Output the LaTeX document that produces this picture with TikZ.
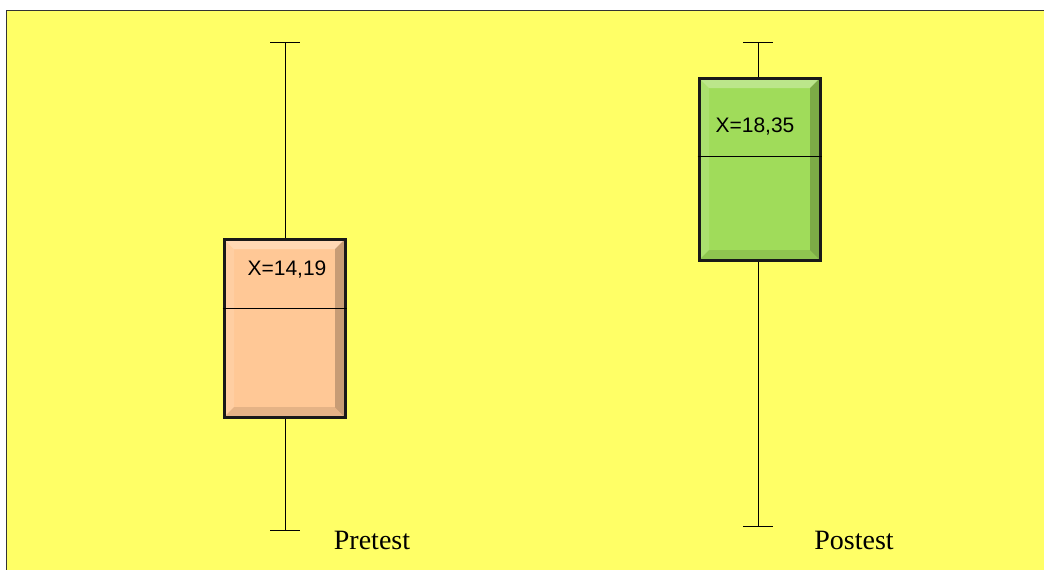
\documentclass[tikz,border=0pt]{standalone}
\usepackage{fontspec}
\setmainfont{Liberation Serif}
\newfontfamily\arialfont{Liberation Sans}
\usetikzlibrary{positioning}

\definecolor{chartyellow}{HTML}{FFFF66}
\definecolor{prefill}{HTML}{FFC896}
\definecolor{postfill}{HTML}{A0DC5A}

\tikzset{
  bevelbox/.style={draw=black!90,line width=3pt,minimum width=121pt,inner sep=0pt,
    path picture={
      \fill[white,opacity=.3] (path picture bounding box.north west) -- (path picture bounding box.north east)
        -- ([shift={(-10pt,-10pt)}]path picture bounding box.north east) -- ([shift={(10pt,-10pt)}]path picture bounding box.north west) -- cycle;
      \fill[white,opacity=.12] (path picture bounding box.north west) -- (path picture bounding box.south west)
        -- ([shift={(10pt,10pt)}]path picture bounding box.south west) -- ([shift={(10pt,-10pt)}]path picture bounding box.north west) -- cycle;
      \fill[black,opacity=.22] (path picture bounding box.north east) -- (path picture bounding box.south east)
        -- ([shift={(-10pt,10pt)}]path picture bounding box.south east) -- ([shift={(-10pt,-10pt)}]path picture bounding box.north east) -- cycle;
      \fill[black,opacity=.1] (path picture bounding box.south west) -- (path picture bounding box.south east)
        -- ([shift={(-10pt,10pt)}]path picture bounding box.south east) -- ([shift={(10pt,10pt)}]path picture bounding box.south west) -- cycle;
    }},
  whisker/.style={line width=.8pt},
  meanlabel/.style={font=\arialfont\fontsize{21}{21}\selectfont},
  grouplabel/.style={font=\fontsize{28}{28}\selectfont}
}

\begin{document}
\begin{tikzpicture}[x=1pt,y=-1pt]
  \useasboundingbox (0,0) rectangle (1044,570);
  \fill[chartyellow] (6.5,10.5) rectangle (1044,570);
  \draw[line width=1.5pt,black!80] (1044,10.5) -- (6.5,10.5) -- (6.5,570);

  % pretest
  \coordinate (PreTop) at (285,42);
  \coordinate (PreBot) at (285,530);
  \coordinate (PreMid) at (285,308);
  \draw[whisker] (PreTop) -- (285,239);
  \draw[whisker] (285,417) -- (PreBot);
  \draw[whisker] ([xshift=-15pt]PreTop) -- ([xshift=15pt]PreTop);
  \draw[whisker] ([xshift=-15pt]PreBot) -- ([xshift=15pt]PreBot);
  \node[bevelbox,fill=prefill,minimum height=178pt] (PreBox) at (284.5,328) {};
  \draw[line width=.8pt] (PreBox.west |- PreMid) -- (PreBox.east |- PreMid);
  \node[meanlabel] (PreMean) at (287,270) {X=14,19};
  \node[grouplabel] (PreName) at (372,540) {Pretest};

  % postest
  \coordinate (PostTop) at (758,42);
  \coordinate (PostBot) at (758,526);
  \coordinate (PostMid) at (758,156);
  \draw[whisker] (PostTop) -- (758,78);
  \draw[whisker] (758,260) -- (PostBot);
  \draw[whisker] ([xshift=-15pt]PostTop) -- ([xshift=15pt]PostTop);
  \draw[whisker] ([xshift=-15pt]PostBot) -- ([xshift=15pt]PostBot);
  \node[bevelbox,fill=postfill,minimum height=182pt] (PostBox) at (759.5,169) {};
  \draw[line width=.8pt] (PostBox.west |- PostMid) -- (PostBox.east |- PostMid);
  \node[meanlabel] (PostMean) at (755,127) {X=18,35};
  \node[grouplabel] (PostName) at (854,540) {Postest};
\end{tikzpicture}
\end{document}
